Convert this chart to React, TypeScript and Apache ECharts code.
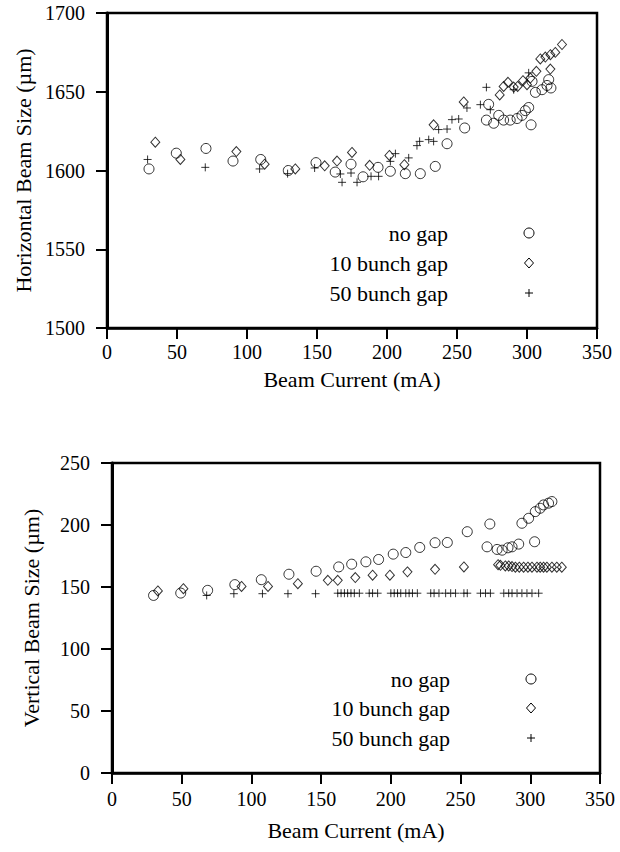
import React, { useEffect, useRef } from "react";
import * as echarts from "echarts";

// ---- Data ----
const xTickValues = [0, 50, 100, 150, 200, 250, 300, 350];
const topYTicks = [1500, 1550, 1600, 1650, 1700];
const bottomYTicks = [0, 50, 100, 150, 200, 250];
const legendLabels = ["no gap", "10 bunch gap", "50 bunch gap"];

const topNoGap: number[][] = [
  [30, 1601], [49.5, 1611], [70.7, 1614], [90, 1606], [109.8, 1607], [129.5, 1600],
  [149.3, 1605], [163, 1599], [174.3, 1604], [182.9, 1596], [193.6, 1602], [202.4, 1599.5],
  [213.1, 1598], [223.8, 1598], [234.5, 1602.6], [242.9, 1617], [255.5, 1627], [271, 1632],
  [272.6, 1642], [276.2, 1630], [279.8, 1635], [283.3, 1632], [288, 1632], [292.9, 1633],
  [296.4, 1635], [298.8, 1638], [301.2, 1640], [302.9, 1629], [303.6, 1656.6], [306, 1649.6],
  [310.7, 1651.3], [314.3, 1654], [315.5, 1657.7], [317.1, 1652.4],
];
const topGap10: number[][] = [
  [34.5, 1618], [52.4, 1607], [92.4, 1612], [112.6, 1604], [134.5, 1601], [155.5, 1603],
  [164.3, 1606], [175, 1611.5], [187.6, 1603.3], [201.7, 1609.6], [212.4, 1603.7], [233.3, 1629],
  [254.8, 1643.5], [280.5, 1648], [283.3, 1653.4], [286.4, 1656], [290.5, 1653], [293.3, 1653.4],
  [297.1, 1657], [300, 1654.5], [302.4, 1658.7], [306.7, 1663], [309.5, 1670.8], [313.1, 1672],
  [316.7, 1664.4], [316.7, 1673.5], [320.2, 1675], [325, 1680],
];
const topGap50: number[][] = [
  [29, 1607], [70.2, 1602], [109, 1601], [129, 1598], [148.3, 1601.6], [166.7, 1597.8],
  [167.9, 1592.5], [174.3, 1598.4], [178.6, 1592.5], [188.6, 1596.3], [194, 1596.3], [202.4, 1605.8],
  [206, 1610.7], [215.5, 1608], [221.4, 1615.8], [223.3, 1618.5], [229.8, 1619.6], [233.3, 1618.5],
  [236.9, 1626], [242.9, 1626.3], [246.4, 1632.3], [251.2, 1632.7], [257.1, 1639.7], [266.7, 1641.8],
  [271, 1652.8], [273.8, 1638.6], [290.5, 1651.3], [301.2, 1662],
];

const bottomNoGap: number[][] = [
  [29.8, 143.2], [49.3, 145.1], [68.6, 147.3], [88.1, 151.9], [107.1, 155.9], [126.9, 160.3],
  [146.4, 162.7], [162.6, 166.2], [171.9, 168.4], [182.1, 170.3], [191.2, 172.2], [201.7, 176.5],
  [210.7, 177.8], [220.7, 181.9], [231.7, 185.7], [240.5, 185.9], [254.8, 194.6], [271, 200.8],
  [269, 182.4], [276.2, 180.3], [279.8, 179.7], [284, 181.6], [286.9, 182.4], [291.7, 184.6],
  [303.1, 186.5], [294, 201.4], [298.8, 205.4], [303.6, 210.8], [307.1, 213.5], [309.5, 216.2],
  [313.1, 217.6], [315.5, 218.9],
];
const bottomGap10: number[][] = [
  [32.9, 146.8], [51.2, 148.6], [92.9, 150.5], [111.9, 150.5], [133.3, 152.7], [154.8, 155.4],
  [161.9, 155.4], [174.5, 157.6], [186.9, 159.5], [199.3, 159.5], [211.9, 162.2], [231.7, 164.3],
  [252.4, 166.2], [276.9, 168], [278.6, 167.5], [282.1, 167], [284.5, 167], [286.9, 166.5],
  [289.3, 166], [292.1, 166], [295.2, 166], [298.3, 166], [301.2, 166], [304.8, 166],
  [307.1, 166], [309.5, 166], [311.9, 166], [315.5, 166], [319, 166], [322.6, 166],
];
const bottomGap50: number[][] = [
  [67.9, 143.2], [87.4, 144.6], [107.9, 144.6], [126.2, 144.6], [146, 144.6],
  [161.9, 145], [164.3, 145], [166.7, 145], [169, 145], [171.4, 145], [173.8, 145],
  [177.4, 145], [184.5, 145], [186.9, 145], [190.5, 145], [200, 145], [202.4, 145],
  [204.8, 145], [207.1, 145], [210.7, 145], [213.1, 145], [215.5, 145], [219, 145],
  [228.6, 145], [231, 145], [234.5, 145], [239.3, 145], [242.9, 145], [246.4, 145],
  [252.4, 145], [254.8, 145], [264.3, 145], [267.9, 145], [271.4, 145], [281, 145],
  [284.5, 145], [286.9, 145], [290.5, 145], [294, 145], [297.6, 145], [301.2, 145], [306, 145],
];

const FONT = "'Liberation Serif', 'Times New Roman', Times, serif";
const PLUS = "path://M0,5L10,5M5,0L5,10";

function axisCommon(min: number, max: number, interval: number, lineWidth: number) {
  return {
    type: "value",
    min,
    max,
    interval,
    axisLine: { show: true, onZero: false, lineStyle: { color: "#000", width: lineWidth } },
    axisTick: { show: true, inside: false, length: 11, lineStyle: { color: "#000", width: 2 } },
    splitLine: { show: false },
    nameLocation: "middle",
    nameTextStyle: { color: "#000", fontFamily: FONT, fontSize: 22 },
  };
}

function label(margin: number) {
  return {
    color: "#000",
    fontFamily: FONT,
    fontSize: 20,
    margin,
    formatter: (v: number) => String(v),
  };
}

function markerSeries(name: string, data: number[][], idx: number, kind: number) {
  const symbol = kind === 0 ? "circle" : kind === 1 ? "diamond" : PLUS;
  const size = kind === 0 ? 10 : kind === 1 ? [9, 10] : 8;
  return {
    type: "scatter",
    name,
    xAxisIndex: idx,
    yAxisIndex: idx,
    data,
    symbol,
    symbolSize: size,
    itemStyle: { color: "transparent", borderColor: "#000", borderWidth: 1 },
    silent: true,
  };
}

function legendGraphics(textRight: number, markX: number, rows: number[]) {
  const els: any[] = [];
  rows.forEach((y, i) => {
    els.push({
      type: "text",
      x: textRight,
      y,
      style: {
        text: legendLabels[i],
        fill: "#000",
        fontFamily: FONT,
        fontSize: 22,
        textAlign: "right",
        textVerticalAlign: "middle",
      },
    });
    if (i === 0) {
      els.push({ type: "circle", shape: { cx: markX, cy: y, r: 5 }, style: { fill: "none", stroke: "#000", lineWidth: 1 } });
    } else if (i === 1) {
      els.push({
        type: "polygon",
        shape: { points: [[markX, y - 5], [markX + 4.5, y], [markX, y + 5], [markX - 4.5, y]] },
        style: { fill: "none", stroke: "#000", lineWidth: 1 },
      });
    } else {
      els.push({ type: "line", shape: { x1: markX - 4, y1: y, x2: markX + 4, y2: y }, style: { stroke: "#000", lineWidth: 1 } });
      els.push({ type: "line", shape: { x1: markX, y1: y - 4, x2: markX, y2: y + 4 }, style: { stroke: "#000", lineWidth: 1 } });
    }
  });
  return els;
}

export default function App() {
  const ref = useRef<HTMLDivElement>(null);
  useEffect(() => {
    document.body.style.margin = "0";
    const chart = echarts.init(ref.current!, null, { renderer: "svg" });
    const option: any = {
      animation: false,
      backgroundColor: "#fff",
      textStyle: { fontFamily: FONT },
      grid: [
        { left: 107, top: 13, width: 490, height: 315, show: true, borderColor: "#000", borderWidth: 2.5, backgroundColor: "transparent" },
        { left: 112, top: 463, width: 488, height: 310, show: true, borderColor: "#000", borderWidth: 2.5, backgroundColor: "transparent" },
      ],
      xAxis: [
        {
          ...axisCommon(xTickValues[0], xTickValues[xTickValues.length - 1], 50, 2.5),
          gridIndex: 0,
          name: "Beam Current (mA)",
          nameGap: 40,
          axisLabel: label(14),
        },
        {
          ...axisCommon(xTickValues[0], xTickValues[xTickValues.length - 1], 50, 2.5),
          gridIndex: 1,
          name: "Beam Current (mA)",
          nameGap: 46,
          axisLabel: label(16),
        },
      ],
      yAxis: [
        {
          ...axisCommon(topYTicks[0], topYTicks[topYTicks.length - 1], 50, 3),
          gridIndex: 0,
          name: "Horizontal Beam Size (\u00b5m)",
          nameGap: 73,
          axisLabel: label(22),
        },
        {
          ...axisCommon(bottomYTicks[0], bottomYTicks[bottomYTicks.length - 1], 50, 3),
          gridIndex: 1,
          name: "Vertical Beam Size (\u00b5m)",
          nameGap: 70,
          axisLabel: label(22),
        },
      ],
      series: [
        markerSeries(legendLabels[0], topNoGap, 0, 0),
        markerSeries(legendLabels[1], topGap10, 0, 1),
        markerSeries(legendLabels[2], topGap50, 0, 2),
        markerSeries(legendLabels[0], bottomNoGap, 1, 0),
        markerSeries(legendLabels[1], bottomGap10, 1, 1),
        markerSeries(legendLabels[2], bottomGap50, 1, 2),
      ],
      graphic: [
        ...legendGraphics(448, 529, [233, 263, 293]),
        ...legendGraphics(450, 531, [679, 708, 738]),
      ],
    };
    chart.setOption(option);
    return () => chart.dispose();
  }, []);
  return <div ref={ref} style={{ width: 620, height: 852 }} />;
}
